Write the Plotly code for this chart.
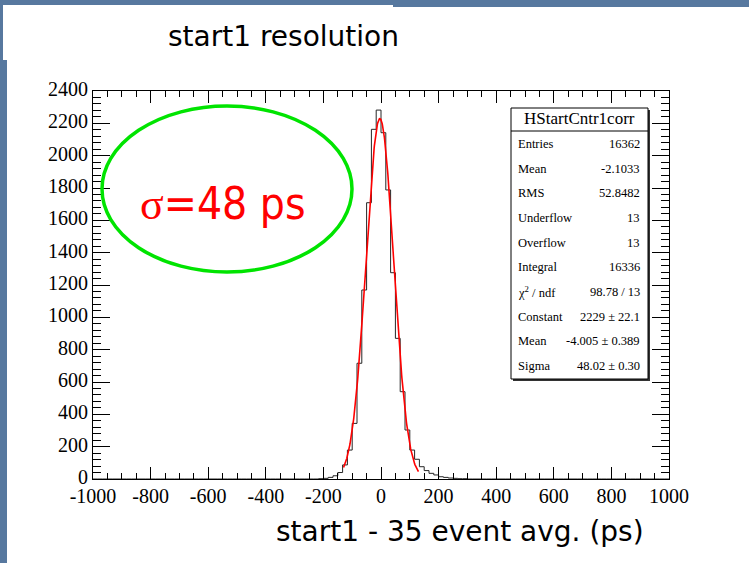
import numpy as np
import plotly.graph_objects as go

# ---- histogram data: 120 bins over [-1000, 1000] ps ----
x_min, x_max, n_bins = -1000.0, 1000.0, 120
first_bin = 47  # bin [-216.7, -200.0]
counts = [2, 4, 10, 20, 40, 87, 179, 344, 716, 1169, 1709, 2163, 2282,
          2142, 1788, 1276, 870, 540, 303, 179, 122, 76, 52, 35, 25, 14,
          10, 6, 4, 2, 2]

# ---- gaussian fit result ----
fit_const, fit_mean, fit_sigma = 2229.0, -4.005, 48.02
fit_range = (-130.0, 130.0)

# ---- statistics box ----
stats_title = "HStartCntr1corr"
stats_labels = ["Entries", "Mean", "RMS", "Underflow", "Overflow", "Integral",
                "χ<sup>2</sup> / ndf", "Constant", "Mean", "Sigma"]
stats_values = ["16362", "-2.1033", "52.8482", "13", "13", "16336",
                "98.78 / 13", "2229 ± 22.1", "-4.005 ± 0.389", "48.02 ± 0.30"]

# ---- axis ticks ----
x_ticks = [-1000, -800, -600, -400, -200, 0, 200, 400, 600, 800, 1000]
x_tick_text = ["-1000", "-800", "-600", "-400", "-200", "0", "200", "400", "600", "800", "1000"]
y_ticks = [0, 200, 400, 600, 800, 1000, 1200, 1400, 1600, 1800, 2000, 2200, 2400]
y_tick_text = [str(v) for v in y_ticks]

slide_title = "start1 resolution"
x_title = "start1 - 35 event avg. (ps)"
sigma_label = '<span style="font-family:Liberation Serif">σ</span>=48 ps'

# ---- page geometry (pixels) ----
W_PX, H_PX = 749, 563
L, R, T, B = 93, 80, 91, 84
PW, PH = W_PX - L - R, H_PX - T - B


def px(x):
    return (x - L) / PW


def py(y):
    return (H_PX - B - y) / PH


edges = x_min + np.arange(n_bins + 1) * (x_max - x_min) / n_bins
full = np.zeros(n_bins)
full[first_bin:first_bin + len(counts)] = counts
step_x = edges
step_y = np.append(full, full[-1])

xf = np.linspace(fit_range[0], fit_range[1], 300)
yf = fit_const * np.exp(-0.5 * ((xf - fit_mean) / fit_sigma) ** 2)

fig = go.Figure()
fig.add_trace(go.Scatter(x=step_x, y=step_y, mode="lines", line_shape="hv",
                         line=dict(color="#262626", width=1.0),
                         hoverinfo="skip", showlegend=False))
fig.add_trace(go.Scatter(x=xf, y=yf, mode="lines",
                         line=dict(color="#ff0000", width=1.6),
                         hoverinfo="skip", showlegend=False))

serif = "Liberation Serif, Times New Roman, serif"
axis_common = dict(showline=True, linecolor="black", linewidth=1,
                   mirror="allticks", ticks="inside", tickcolor="black",
                   tickwidth=1, showgrid=False, zeroline=False,
                   tickfont=dict(family=serif, size=20, color="black"))

fig.update_xaxes(range=[x_min, x_max], tickmode="array", tickvals=x_ticks,
                 ticktext=x_tick_text, ticklen=12, ticklabelstandoff=-1,
                 minor=dict(ticks="inside", ticklen=6, dtick=50, tick0=-1000,
                            tickcolor="black", tickwidth=1, showgrid=False),
                 **axis_common)
fig.update_yaxes(range=[0, 2400], tickmode="array", tickvals=y_ticks,
                 ticktext=y_tick_text, ticklen=17, ticklabelshift=-2,
                 minor=dict(ticks="inside", ticklen=8, dtick=40, tick0=0,
                            tickcolor="black", tickwidth=1, showgrid=False),
                 **axis_common)

shapes = []
blue = "#57789f"
# slide background strips
shapes.append(dict(type="rect", xref="paper", yref="paper", x0=px(0), x1=px(7),
                   y0=py(563), y1=py(60), fillcolor=blue, line_width=0, layer="below"))
shapes.append(dict(type="rect", xref="paper", yref="paper", x0=px(0), x1=px(3),
                   y0=py(60), y1=py(0), fillcolor=blue, line_width=0, layer="below"))
shapes.append(dict(type="rect", xref="paper", yref="paper", x0=px(0), x1=px(749),
                   y0=py(5), y1=py(0), fillcolor=blue, line_width=0, layer="below"))
shapes.append(dict(type="rect", xref="paper", yref="paper", x0=px(393), x1=px(749),
                   y0=py(7), y1=py(0), fillcolor=blue, line_width=0, layer="below"))

# highlight ellipse
shapes.append(dict(type="circle", xref="paper", yref="paper",
                   x0=px(102), x1=px(352), y0=py(272), y1=py(106),
                   line=dict(color="#00e400", width=3.5)))

# statistics box with shadow
bx0, bx1, by0, by1 = 511, 648, 108, 379
shapes.append(dict(type="rect", xref="paper", yref="paper",
                   x0=px(bx0 + 2), x1=px(bx1 + 2), y0=py(by1 + 2), y1=py(by0 + 2),
                   fillcolor="#333333", line_width=0))
shapes.append(dict(type="rect", xref="paper", yref="paper",
                   x0=px(bx0), x1=px(bx1), y0=py(by1), y1=py(by0),
                   fillcolor="white", line=dict(color="black", width=1)))
shapes.append(dict(type="line", xref="paper", yref="paper",
                   x0=px(bx0), x1=px(bx1), y0=py(131), y1=py(131),
                   line=dict(color="black", width=1)))

annotations = []
annotations.append(dict(xref="paper", yref="paper", x=px((bx0 + bx1) / 2), y=py(119),
                        text=stats_title, showarrow=False, xanchor="center", yanchor="middle",
                        font=dict(family=serif, size=17, color="black")))
row_y0, row_dy = 144, 24.65
for i, (lab, val) in enumerate(zip(stats_labels, stats_values)):
    yy = py(row_y0 + i * row_dy)
    annotations.append(dict(xref="paper", yref="paper", x=px(516), y=yy, text=lab,
                            showarrow=False, xanchor="left", yanchor="middle",
                            font=dict(family=serif, size=12.5, color="black")))
    annotations.append(dict(xref="paper", yref="paper", x=px(642), y=yy, text=val,
                            showarrow=False, xanchor="right", yanchor="middle",
                            font=dict(family=serif, size=12.5, color="black")))

annotations.append(dict(xref="paper", yref="paper", x=px(283), y=py(36), text=slide_title,
                        showarrow=False, xanchor="center", yanchor="middle",
                        font=dict(family="DejaVu Sans", size=28, color="black")))
annotations.append(dict(xref="paper", yref="paper", x=px(460), y=py(531), text=x_title,
                        showarrow=False, xanchor="center", yanchor="middle",
                        font=dict(family="DejaVu Sans", size=28, color="black")))
annotations.append(dict(xref="paper", yref="paper", x=px(223), y=py(203), text=sigma_label,
                        showarrow=False, xanchor="center", yanchor="middle",
                        font=dict(family="DejaVu Sans Condensed", size=44, color="#ff0000")))

fig.update_layout(width=W_PX, height=H_PX,
                  margin=dict(l=L, r=R, t=T, b=B, pad=0),
                  paper_bgcolor="white", plot_bgcolor="white",
                  shapes=shapes, annotations=annotations, showlegend=False)

fig.write_html("out.html", config={"displayModeBar": False})
